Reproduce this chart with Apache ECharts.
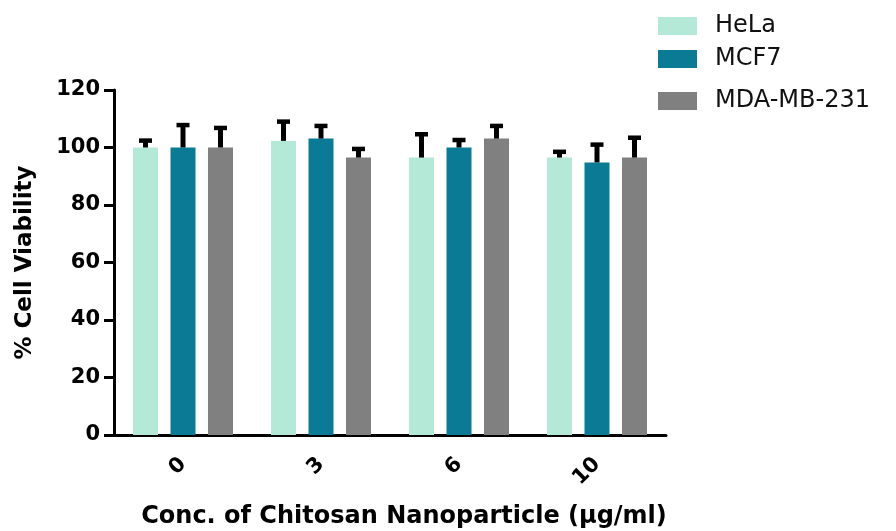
<!DOCTYPE html>
<html>
<head>
<meta charset="utf-8">
<script src="https://cdn.jsdelivr.net/npm/echarts@6/dist/echarts.min.js"></script>
<style>
  html, body { margin: 0; padding: 0; background: #fff; }
</style>
</head>
<body>
<div id="chartID" style="width: 896px;height:531px"></div>
<script>
const categories = ['0', '3', '6', '10']
const seriesNames = ['HeLa', 'MCF7', 'MDA-MB-231']

const hela = [100, 102.3, 96.5, 96.5]
const mcf7 = [100, 103.1, 100, 94.8]
const mda = [100, 96.5, 103.1, 96.5]

// upper SD only (error bars point up)
const helaErr = [2.4, 6.7, 8.1, 2.0]
const mcf7Err = [7.8, 4.4, 2.6, 6.2]
const mdaErr = [6.8, 3.0, 4.4, 6.9]

const colors = ['#b5e9d7', '#0b7b95', '#808080']
const font = 'DejaVu Sans'

const chartObj = echarts.init(document.getElementById('chartID'), undefined, { renderer: 'canvas' })

const barWidth = 25
const step = 37.5 // bar width + gap

function errorSeries(values, errs, i) {
  return {
    type: 'custom',
    name: seriesNames[i] + ' err',
    z: 5,
    silent: true,
    data: values.map((v, k) => [k, v, errs[k]]),
    renderItem(params, api) {
      const top = api.coord([api.value(0), api.value(1) + api.value(2)])
      const base = api.coord([api.value(0), api.value(1)])
      const x = base[0] + (i - 1) * step
      return {
        type: 'group',
        children: [
          {
            type: 'line',
            shape: { x1: x, y1: base[1], x2: x, y2: top[1] },
            style: { stroke: '#000', lineWidth: 5 },
          },
          {
            type: 'line',
            shape: { x1: x - 6.5, y1: top[1], x2: x + 6.5, y2: top[1] },
            style: { stroke: '#000', lineWidth: 4.5 },
          },
        ],
      }
    },
  }
}

function legendFor(name, top) {
  return {
    data: [name],
    left: 653,
    top,
    itemWidth: 39,
    itemHeight: 18,
    icon: 'rect',
    textStyle: {
      fontFamily: font,
      fontSize: 24,
      color: '#111',
      padding: [0, 0, 0, 13],
    },
  }
}

const option = {
  backgroundColor: '#fff',
  animation: false,
  color: colors,
  legend: [
    legendFor('HeLa', 9),
    legendFor('MCF7', 42),
    legendFor('MDA-MB-231', 84),
  ],
  grid: {
    left: 114,
    top: 90,
    width: 552,
    bottom: 96,
    outerBoundsMode: 'none',
  },
  xAxis: {
    type: 'category',
    data: categories,
    name: 'Conc. of Chitosan Nanoparticle (μg/ml)',
    nameLocation: 'middle',
    nameGap: 70,
    nameTextStyle: {
      fontFamily: font,
      fontWeight: 'bold',
      fontSize: 24,
      color: '#000',
      padding: [0, 0, 0, 28],
    },
    axisLine: { lineStyle: { color: '#000', width: 3 } },
    axisTick: { alignWithLabel: true, length: 10, lineStyle: { color: '#000', width: 3 } },
    axisLabel: {
      rotate: 45,
      margin: 26,
      fontFamily: font,
      fontWeight: 'bold',
      fontSize: 21,
      color: '#000',
    },
  },
  yAxis: {
    type: 'value',
    min: 0,
    max: 120,
    interval: 20,
    name: '% Cell Viability',
    nameLocation: 'middle',
    nameGap: 77,
    nameTextStyle: {
      fontFamily: font,
      fontWeight: 'bold',
      fontSize: 23,
      color: '#000',
    },
    splitLine: { show: false },
    axisLine: { show: true, lineStyle: { color: '#000', width: 3 } },
    axisTick: { show: true, length: 10, lineStyle: { color: '#000', width: 3 } },
    axisLabel: {
      margin: 14,
      fontFamily: font,
      fontWeight: 'bold',
      fontSize: 21,
      color: '#000',
    },
  },
  series: [
    { name: 'HeLa', type: 'bar', data: hela, barWidth, barGap: '50%' },
    { name: 'MCF7', type: 'bar', data: mcf7, barWidth, barGap: '50%' },
    { name: 'MDA-MB-231', type: 'bar', data: mda, barWidth, barGap: '50%' },
    errorSeries(hela, helaErr, 0),
    errorSeries(mcf7, mcf7Err, 1),
    errorSeries(mda, mdaErr, 2),
  ],
}

chartObj.setOption(option)
</script>
</body>
</html>
